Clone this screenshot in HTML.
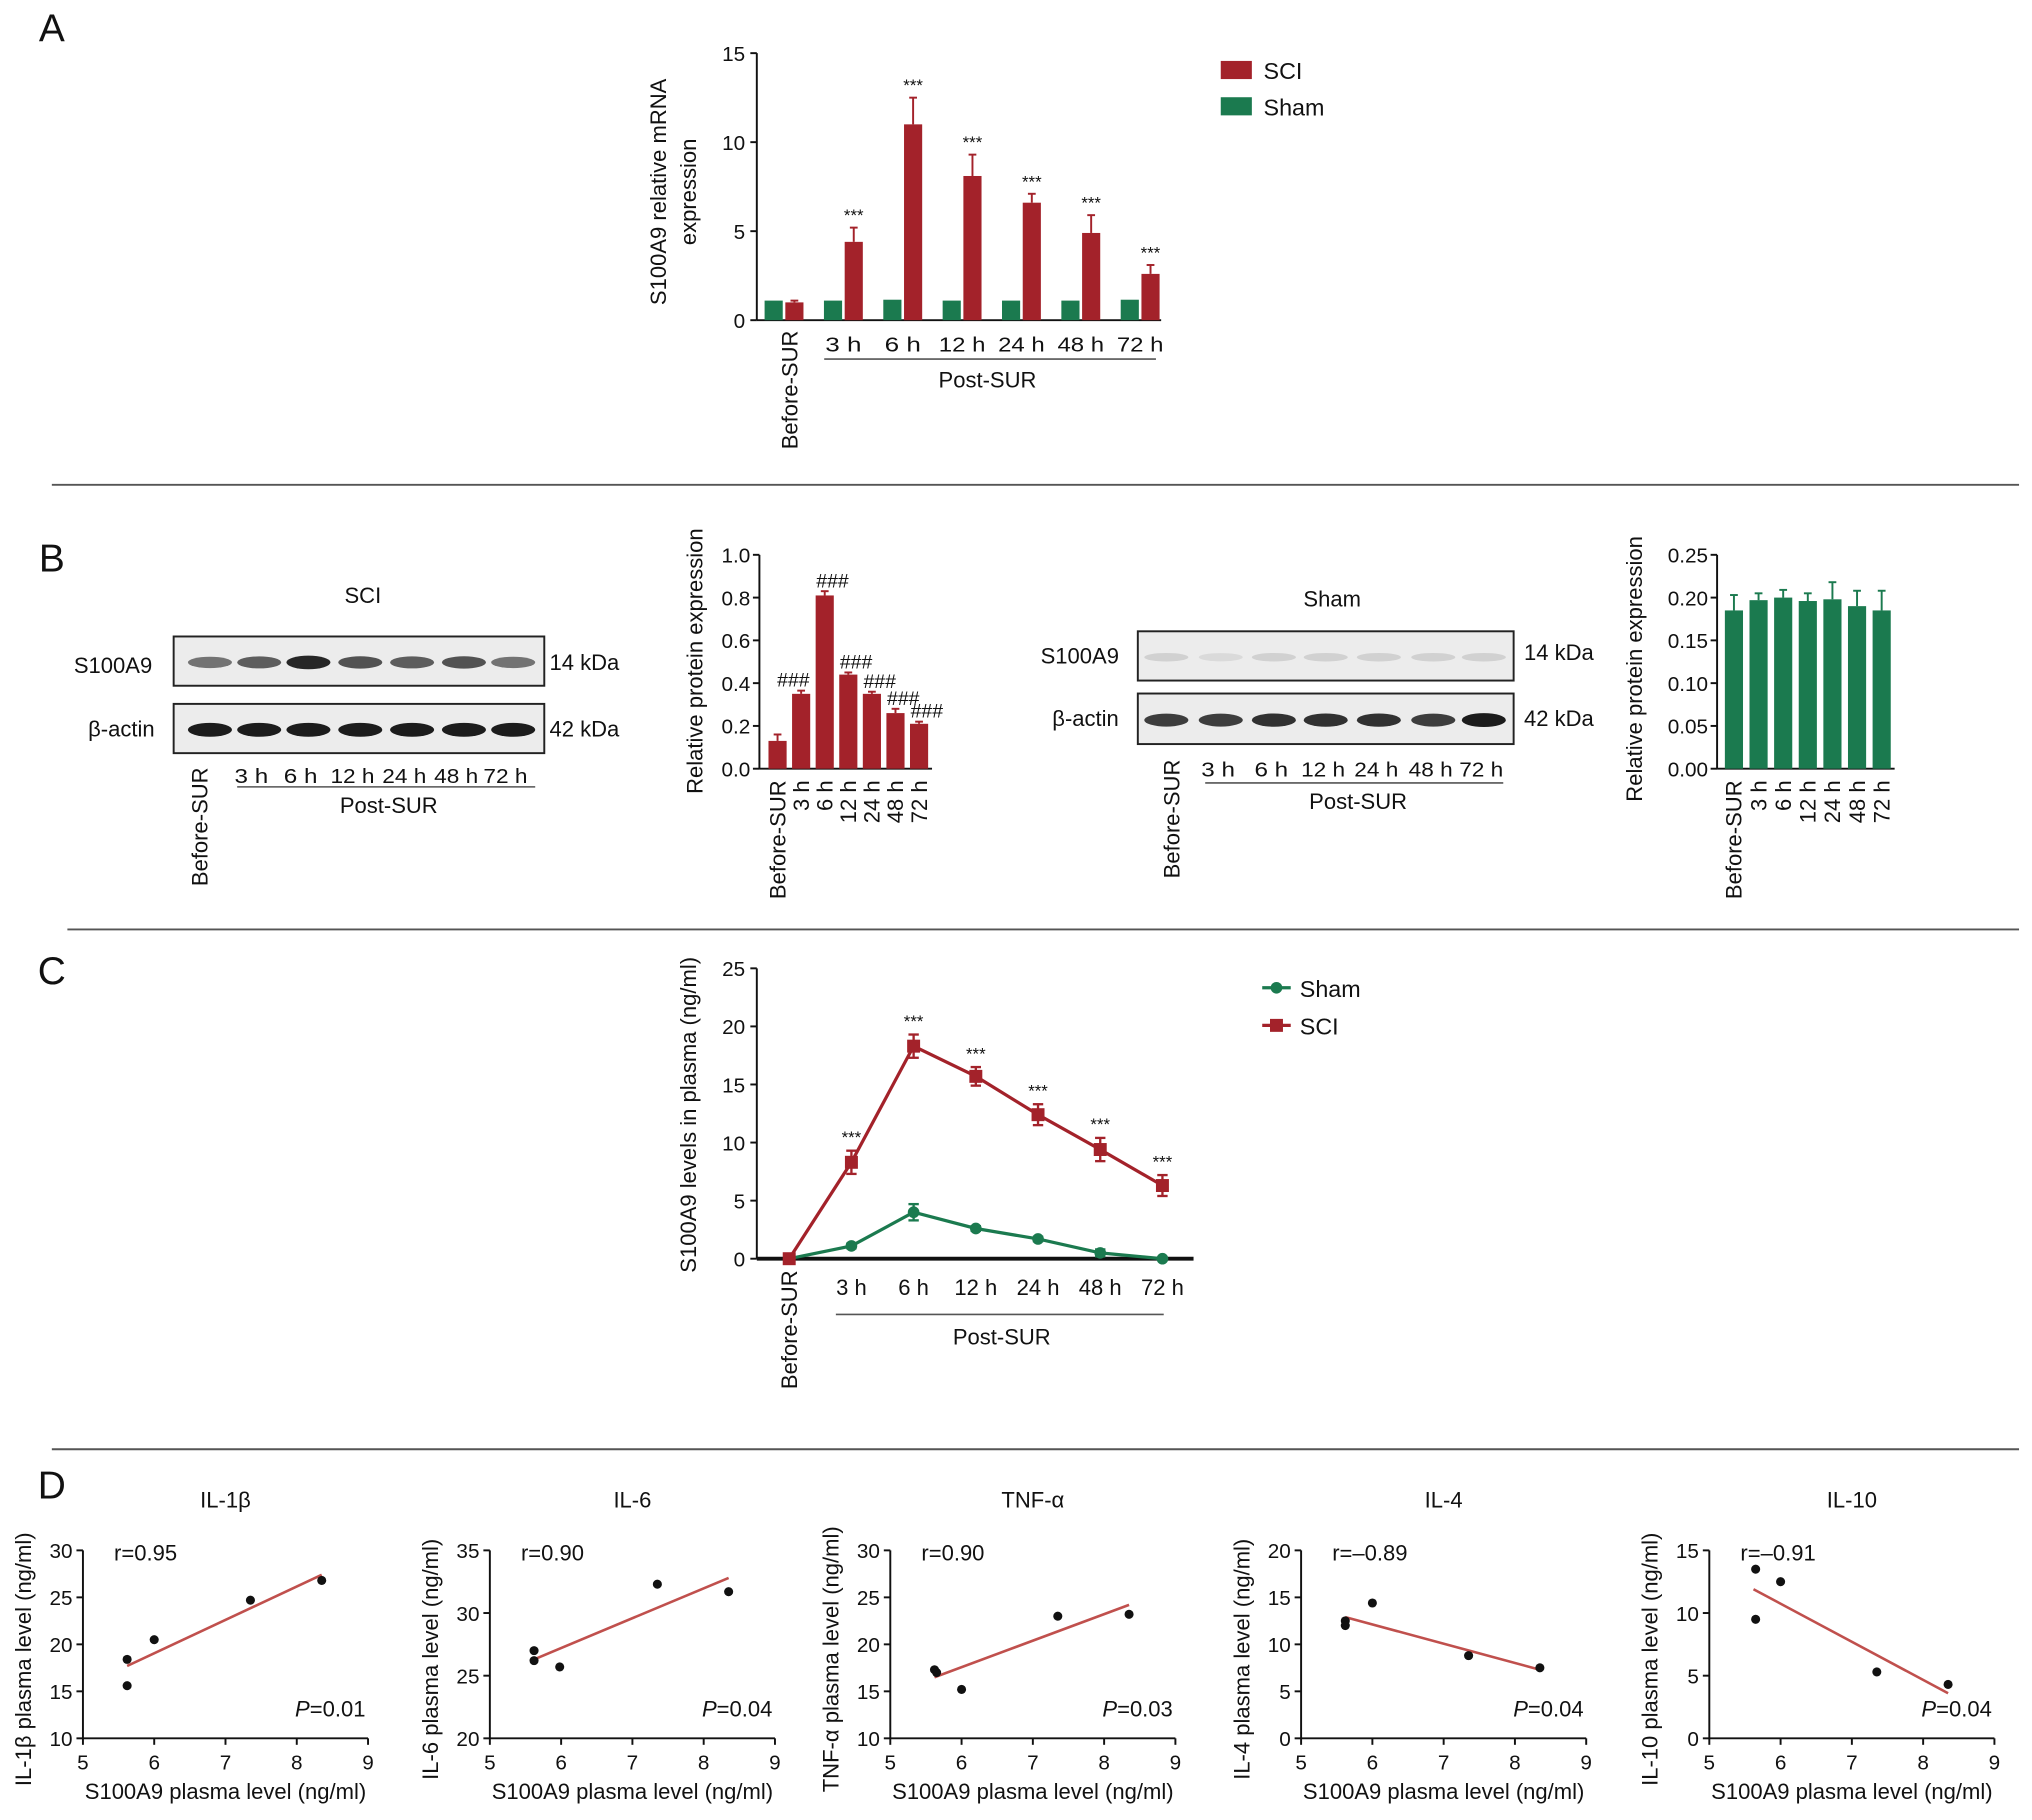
<!DOCTYPE html>
<html><head><meta charset="utf-8"><style>
html,body{margin:0;padding:0;background:#fff;}
svg{display:block;font-family:"Liberation Sans",sans-serif;}
</style></head><body>
<svg id="fig" width="2032" height="1820" viewBox="0 0 1568 1404" preserveAspectRatio="none" xmlns="http://www.w3.org/2000/svg"></svg>
<script>
// ---- data ----
const aCats = ["Before-SUR","3 h","6 h","12 h","24 h","48 h","72 h"];
const aSCI = [1.0,4.4,11.0,8.1,6.6,4.9,2.6];
const aSCIerr = [0.1,0.8,1.5,1.2,0.5,1.0,0.5];
const aSham = [1.1,1.1,1.15,1.1,1.1,1.1,1.15];
const aTicks = [0,5,10,15];
const b1Vals = [0.13,0.35,0.81,0.44,0.35,0.26,0.21];
const b1Err = [0.03,0.015,0.02,0.01,0.01,0.02,0.01];
const b1Ticks = [0,0.2,0.4,0.6,0.8,1.0];
const b2Vals = [0.185,0.197,0.200,0.196,0.198,0.190,0.185];
const b2Err = [0.018,0.008,0.009,0.009,0.02,0.018,0.023];
const b2Ticks = [0,0.05,0.10,0.15,0.20,0.25];
const cSCI = [0,8.3,18.3,15.7,12.4,9.4,6.3];
const cSCIerr = [0.2,1.0,1.0,0.8,0.9,1.0,0.9];
const cSham = [0,1.1,4.0,2.6,1.7,0.5,0];
const cShamErr = [0.1,0.2,0.7,0.2,0.2,0.3,0.1];
const cTicks = [0,5,10,15,20,25];
const dTitles = ["IL-1β","IL-6","TNF-α","IL-4","IL-10"];
const dYlab = ["IL-1β plasma level (ng/ml)","IL-6 plasma level (ng/ml)","TNF-α plasma level (ng/ml)","IL-4 plasma level (ng/ml)","IL-10 plasma level (ng/ml)"];
const dX = [[5.62,5.62,6.0,7.35,8.35],[5.62,5.62,5.98,7.35,8.35],[5.62,5.65,6.0,7.35,8.35],[5.62,5.62,6.0,7.35,8.35],[5.65,5.65,6.0,7.35,8.35]];
const dY = [[18.4,15.6,20.5,24.7,26.8],[27,26.2,25.7,32.3,31.7],[17.3,17,15.2,23,23.2],[12.5,12,14.4,8.8,7.5],[13.5,9.5,12.5,5.3,4.3]];
const dFitX = [[5.62,8.35],[5.62,8.35],[5.62,8.35],[5.62,8.35],[5.62,8.35]];
const dFitY = [[17.7,27.4],[26.3,32.8],[16.5,24.2],[12.9,7.3],[11.9,3.6]];
const dYTicks = [[10,15,20,25,30],[20,25,30,35],[10,15,20,25,30],[0,5,10,15,20],[0,5,10,15]];
const dXTicks = [5,6,7,8,9];
const dR = ["r=0.95","r=0.90","r=0.90","r=–0.89","r=–0.91"];
const dP = ["=0.01","=0.04","=0.03","=0.04","=0.04"];

const RED="#a3222a", GRN="#1b7a4f";
const svg=document.getElementById('fig');
const NS="http://www.w3.org/2000/svg";
function el(tag,attrs,name,parent){
  const e=document.createElementNS(NS,tag);
  for(const k in attrs) e.setAttribute(k,attrs[k]);
  
  
  (parent||svg).appendChild(e);return e;
}
function tx(x,y,s,size,name,anchor,rot,extra){
  const a={x:x,y:y,'font-size':size,'text-anchor':anchor||'middle',fill:'#111'};
  if(rot) a.transform=`rotate(${rot} ${x} ${y})`;
  if(extra) Object.assign(a,extra);
  const t=el('text',a,name);t.textContent=s;return t;
}
function ln(x1,y1,x2,y2,name,w,c){return el('line',{x1,y1,x2,y2,stroke:c||'#111','stroke-width':w||1.5},name);}

// panel letters & dividers
tx(40,32,"A",30,"panel-label-a");
tx(40,441,"B",30,"panel-label-b");
tx(40,759,"C",30,"panel-label-c");
tx(40,1156,"D",30,"panel-label-d");
ln(40,374,1558,374,"divider-ab",1.5,"#555");
ln(52,717,1558,717,"divider-bc",1.5,"#555");
ln(40,1118,1558,1118,"divider-cd",1.5,"#555");

// ---- Panel A ----
(function(){
  const x0=584,yb=247,yt=41,vmax=15;
  const ys=v=>yb-(v/vmax)*(yb-yt);
  const xc=i=>605+i*45.8;
  ln(x0,yt,x0,yb,"a-y-axis");ln(x0,yb,896,yb,"a-x-axis");
  aTicks.forEach(t=>{ln(x0-5,ys(t),x0,ys(t),"a-y-tick");tx(x0-9,ys(t)+6,String(t),16,"a-y-tick-label","end");});
  aCats.forEach((c,i)=>{
    const cx=xc(i);
    el('rect',{x:cx-15,y:ys(aSham[i]),width:14,height:yb-ys(aSham[i]),fill:GRN},"a-bar-sham");
    el('rect',{x:cx+1,y:ys(aSCI[i]),width:14,height:yb-ys(aSCI[i]),fill:RED},"a-bar-sci");
    const e=ys(aSCI[i]+aSCIerr[i]);
    ln(cx+8,ys(aSCI[i]),cx+8,e,"a-error-bar",1.5,RED);ln(cx+5,e,cx+11,e,"a-error-cap",1.5,RED);
    if(i>0) tx(cx+8,e-5,"***",13,"a-significance");
    if(i===0) tx(cx+6,255,c,17,"a-x-label","end",-90,{'dominant-baseline':'middle'});
    else tx(cx,271,c,16,"a-x-label","middle",0,{textLength:c.length>3?36:28,lengthAdjust:'spacingAndGlyphs'});
  });
  ln(636,277,892,277,"a-post-sur-line",1.2,"#555");
  tx(762,299,"Post-SUR",17,"a-post-sur-label");
  tx(514,148,"S100A9 relative mRNA",17,"a-y-axis-title","middle",-90);
  tx(537,148,"expression",17,"a-y-axis-title-2","middle",-90);
  el('rect',{x:942,y:47,width:24,height:14,fill:RED},"a-legend-sci-swatch");
  tx(975,61,"SCI",18,"a-legend-sci","start");
  el('rect',{x:942,y:75,width:24,height:14,fill:GRN},"a-legend-sham-swatch");
  tx(975,89,"Sham",18,"a-legend-sham","start");
})();

// ---- Panel B blots ----
function blot(bx,by,w,h,lanes,intens,name){
  el('rect',{x:bx,y:by,width:w,height:h,fill:'#ececec',stroke:'#222','stroke-width':1.5},name+"-box");
  lanes.forEach((lx,i)=>{
    el('ellipse',{cx:lx,cy:by+h/2+1,rx:17,ry:3+intens[i]*2.5,fill:'#111','fill-opacity':intens[i]},name+"-band");
  });
}
(function(){
  const l1=[162,200,238,278,318,358,396];
  tx(280,465,"SCI",17,"b-sci-blot-title");
  blot(134,491,286,38,l1,[0.55,0.65,0.9,0.7,0.65,0.7,0.55],"b-sci-s100a9");
  blot(134,543,286,38,l1,[0.95,0.95,0.95,0.95,0.95,0.95,0.95],"b-sci-actin");
  tx(57,519,"S100A9",17,"b-sci-s100a9-label","start");
  tx(68,568,"β-actin",17,"b-sci-actin-label","start");
  tx(424,517,"14 kDa",17,"b-sci-14kda","start");
  tx(424,568,"42 kDa",17,"b-sci-42kda","start");
  const ll=["3 h","6 h","12 h","24 h","48 h","72 h"];
  ll.forEach((s,i)=>tx(l1[i+1]-6,604,s,16,"b-sci-lane-label","middle",0,{textLength:s.length>3?34:26,lengthAdjust:'spacingAndGlyphs'}));
  tx(160,592,"Before-SUR",17,"b-sci-lane-before","end",-90);
  ln(183,607,413,607,"b-sci-post-line",1.2,"#555");
  tx(300,627,"Post-SUR",17,"b-sci-post-label");

  const l2=[900,942,983,1023,1064,1106,1145];
  tx(1028,468,"Sham",17,"b-sham-blot-title");
  blot(878,487,290,38,l2,[0.12,0.08,0.12,0.12,0.12,0.12,0.12],"b-sham-s100a9");
  blot(878,535,290,39,l2,[0.8,0.8,0.85,0.85,0.85,0.8,0.95],"b-sham-actin");
  tx(803,512,"S100A9",17,"b-sham-s100a9-label","start");
  tx(812,560,"β-actin",17,"b-sham-actin-label","start");
  ll.forEach((s,i)=>tx(l2[i+1]-2,599,s,16,"b-sham-lane-label","middle",0,{textLength:s.length>3?34:26,lengthAdjust:'spacingAndGlyphs'}));
  tx(1176,509,"14 kDa",17,"b-sham-14kda","start");
  tx(1176,560,"42 kDa",17,"b-sham-42kda","start");
  tx(910,586,"Before-SUR",17,"b-sham-lane-before","end",-90);
  ln(930,604,1160,604,"b-sham-post-line",1.2,"#555");
  tx(1048,624,"Post-SUR",17,"b-sham-post-label");
})();

// ---- Panel B bar charts ----
function bBar(x0,xs,vals,errs,ticks,vmax,color,dec,name,sig){
  const yb=593,yt=428;
  const ys=v=>yb-(v/vmax)*(yb-yt);
  ln(x0,yt,x0,yb,name+"-y-axis");ln(x0,yb,xs(vals.length-1)+10,yb,name+"-x-axis");
  ticks.forEach(t=>{ln(x0-5,ys(t),x0,ys(t),name+"-y-tick");tx(x0-7,ys(t)+6,t.toFixed(dec),16,name+"-y-tick-label","end");});
  vals.forEach((v,i)=>{
    const cx=xs(i);
    el('rect',{x:cx-7,y:ys(v),width:14,height:yb-ys(v),fill:color},name+"-bar");
    const e=ys(v+errs[i]);
    ln(cx,ys(v),cx,e,name+"-error-bar",1.5,color);ln(cx-3,e,cx+3,e,name+"-error-cap",1.5,color);
    if(sig&&i>0) tx(cx+(i===1?-6:6),e-3,"###",15,name+"-significance");
    tx(cx+6,602,aCats[i],17,name+"-x-label","end",-90);
  });
}
bBar(586,i=>600+i*18.2,b1Vals,b1Err,b1Ticks,1.0,RED,1,"b-sci-chart",true);
tx(542,510,"Relative protein expression",17,"b-sci-y-axis-title","middle",-90);
bBar(1325,i=>1338+i*19,b2Vals,b2Err,b2Ticks,0.25,GRN,2,"b-sham-chart",false);
tx(1267,516,"Relative protein expression",17,"b-sham-y-axis-title","middle",-90);

// ---- Panel C ----
(function(){
  const x0=584,yb=971,yt=747,vmax=25;
  const ys=v=>yb-(v/vmax)*(yb-yt);
  const xc=i=>609+i*48;
  ln(x0,yt,x0,yb,"c-y-axis");ln(x0,yb,921,yb,"c-x-axis",3);
  cTicks.forEach(t=>{ln(x0-5,ys(t),x0,ys(t),"c-y-tick");tx(x0-9,ys(t)+6,String(t),16,"c-y-tick-label","end");});
  function series(vals,errs,color,name,shape){
    el('polyline',{points:vals.map((v,i)=>xc(i)+","+ys(v)).join(" "),fill:'none',stroke:color,'stroke-width':2.5},name+"-line");
    vals.forEach((v,i)=>{
      const cx=xc(i),cy=ys(v);
      ln(cx,ys(v+errs[i]),cx,ys(v-errs[i]),name+"-error-bar",1.8,color);
      ln(cx-4,ys(v+errs[i]),cx+4,ys(v+errs[i]),name+"-error-cap",1.8,color);
      ln(cx-4,ys(v-errs[i]),cx+4,ys(v-errs[i]),name+"-error-cap",1.8,color);
      if(shape==='sq') el('rect',{x:cx-5,y:cy-5,width:10,height:10,fill:color},name+"-point");
      else el('circle',{cx:cx,cy:cy,r:4.5,fill:color},name+"-point");
    });
  }
  series(cSham,cShamErr,GRN,"c-sham","c");
  series(cSCI,cSCIerr,RED,"c-sci","sq");
  cSCI.forEach((v,i)=>{if(i>0) tx(xc(i),ys(v+cSCIerr[i])-6,"***",13,"c-significance");});
  aCats.forEach((c,i)=>{
    if(i===0) tx(xc(i)+6,980,c,17,"c-x-label","end",-90);
    else tx(xc(i),999,c,17,"c-x-label");
  });
  ln(645,1014,898,1014,"c-post-sur-line",1.2,"#555");
  tx(773,1037,"Post-SUR",17,"c-post-sur-label");
  tx(537,860,"S100A9 levels in plasma (ng/ml)",17,"c-y-axis-title","middle",-90);
  ln(974,762,996,762,"c-legend-sham-line",2.5,GRN);el('circle',{cx:985,cy:762,r:4.5,fill:GRN},"c-legend-sham-marker");
  tx(1003,769,"Sham",18,"c-legend-sham","start");
  ln(974,791,996,791,"c-legend-sci-line",2.5,RED);el('rect',{x:980,y:786,width:10,height:10,fill:RED},"c-legend-sci-marker");
  tx(1003,798,"SCI",18,"c-legend-sci","start");
})();

// ---- Panel D ----
const dX0=[64,378,687,1004,1319];
dX0.forEach((x0,k)=>{
  const yb=1341,yt=1196;
  const yt0=dYTicks[k][0],yt1=dYTicks[k][dYTicks[k].length-1];
  const xs=v=>x0+(v-5)*55;
  const ys=v=>yb-(v-yt0)/(yt1-yt0)*(yb-yt);
  const n="d-"+dTitles[k].toLowerCase().replace(/[^a-z0-9]/g,'');
  ln(x0,yt,x0,yb,n+"-y-axis");ln(x0,yb,x0+220,yb,n+"-x-axis");
  dYTicks[k].forEach(t=>{ln(x0-5,ys(t),x0,ys(t),n+"-y-tick");tx(x0-8,ys(t)+6,String(t),16,n+"-y-tick-label","end");});
  dXTicks.forEach(t=>{ln(xs(t),yb,xs(t),yb+5,n+"-x-tick");tx(xs(t),yb+24,String(t),16,n+"-x-tick-label");});
  el('line',{x1:xs(dFitX[k][0]),y1:ys(dFitY[k][0]),x2:xs(dFitX[k][1]),y2:ys(dFitY[k][1]),stroke:'#c0504d','stroke-width':2},n+"-fit-line");
  dX[k].forEach((v,i)=>el('circle',{cx:xs(v),cy:ys(dY[k][i]),r:3.5,fill:'#111'},n+"-point"));
  tx(x0+110,1163,dTitles[k],17,n+"-title");
  tx(x0+24,1204,dR[k],17,n+"-r-value","start");
  const p=tx(x0+218,1324,dP[k],17,n+"-p-value","end");
  const ts=document.createElementNS(NS,'tspan');ts.setAttribute('font-style','italic');ts.textContent="P";p.insertBefore(ts,p.firstChild);
  tx(x0+110,1388,"S100A9 plasma level (ng/ml)",17,n+"-x-axis-title");
  tx(x0-40,1280,dYlab[k],17,n+"-y-axis-title","middle",-90);
});
</script>
</body></html>
